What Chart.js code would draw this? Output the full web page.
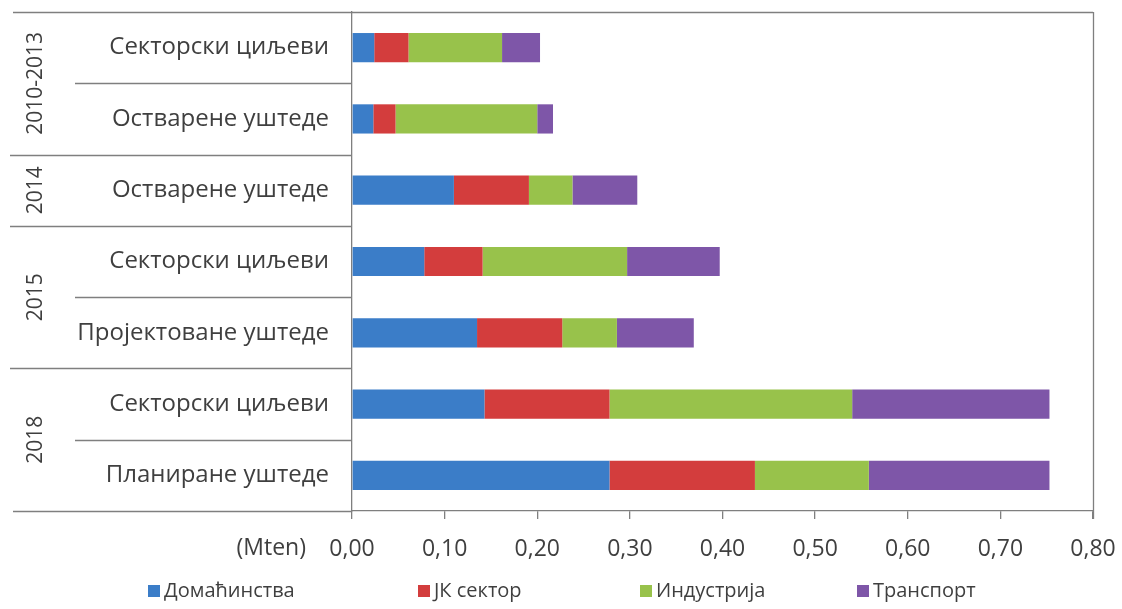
<!DOCTYPE html>
<html>
<head>
<meta charset="utf-8">
<script src="https://cdn.jsdelivr.net/npm/chart.js@4"></script>
<style>
  html, body { margin: 0; padding: 0; background: #ffffff; }
  #wrap { width: 1122px; height: 609px; position: relative; }
</style>
</head>
<body>
<div id="wrap"><canvas id="c" width="1122" height="609"></canvas></div>
<script>
// ---- Data ----
const categories = [
  'Секторски циљеви',
  'Остварене уштеде',
  'Остварене уштеде',
  'Секторски циљеви',
  'Пројектоване уштеде',
  'Секторски циљеви',
  'Планиране уштеде'
];
const groupLabels = ['2010-2013', '2014', '2015', '2018'];
const groupSizes = [2, 1, 2, 2];

const seriesNames = ['Домаћинства', 'ЈК сектор', 'Индустрија', 'Транспорт'];
const domacinstva = [0.024, 0.023, 0.110, 0.078, 0.135, 0.143, 0.278];
const jkSektor    = [0.037, 0.024, 0.081, 0.063, 0.092, 0.135, 0.157];
const industrija  = [0.101, 0.153, 0.047, 0.156, 0.059, 0.262, 0.123];
const transport   = [0.041, 0.017, 0.070, 0.100, 0.083, 0.213, 0.195];

const xMin = 0, xMax = 0.8, xStep = 0.1;
const axisUnit = '(Mten)';

// ---- Styles ----
const colors = ['#3b7dc8', '#d33d3d', '#98c24b', '#7e56a8'];
const textColor = '#3f3f3f';
const lineColor = '#7f7f7f';
const FONT = '"Open Sans", "Noto Sans", sans-serif';

const extras = {
  id: 'extras',
  afterDraw(chart) {
    const ctx = chart.ctx;
    const ca = chart.chartArea;
    const y = chart.scales.y;
    const band = (y.getPixelForValue(1) - y.getPixelForValue(0));
    ctx.save();
    ctx.strokeStyle = lineColor;
    ctx.lineWidth = 1.3;
    // top and right frame
    ctx.beginPath();
    ctx.moveTo(13, ca.top + 0.5); ctx.lineTo(ca.right, ca.top + 0.5);
    ctx.moveTo(ca.right + 0.5, ca.top); ctx.lineTo(ca.right + 0.5, ca.bottom + 8);
    // bottom line extension to left
    ctx.moveTo(13, ca.bottom + 0.5); ctx.lineTo(ca.left, ca.bottom + 0.5);
    ctx.stroke();

    // group separators and inner category separators
    let idx = 0;
    ctx.font = '21px ' + FONT;
    ctx.fillStyle = textColor;
    groupLabels.forEach((g, gi) => {
      const start = idx;
      const end = idx + groupSizes[gi] - 1;
      const yTop = y.getPixelForValue(start) - band / 2;
      const yBot = y.getPixelForValue(end) + band / 2;
      for (let k = start; k < end; k++) {
        const yy = Math.round(y.getPixelForValue(k) + band / 2) + 0.5;
        ctx.beginPath(); ctx.moveTo(75, yy); ctx.lineTo(ca.left, yy); ctx.stroke();
      }
      if (gi > 0) {
        const yy = Math.round(yTop) + 0.5;
        ctx.beginPath(); ctx.moveTo(10, yy); ctx.lineTo(ca.left, yy); ctx.stroke();
      }
      ctx.save();
      ctx.translate(36, (yTop + yBot) / 2);
      ctx.rotate(-Math.PI / 2);
      ctx.textAlign = 'center';
      ctx.textBaseline = 'middle';
      ctx.fillText(g, 0, 0);
      ctx.restore();
      idx += groupSizes[gi];
    });

    // unit label
    ctx.font = '23px ' + FONT;
    ctx.textAlign = 'right';
    ctx.textBaseline = 'middle';
    ctx.fillText(axisUnit, 306, 548);

    // legend
    ctx.font = '20px ' + FONT;
    const legendX = [148, 418, 640, 857];
    const ly = 591;
    ctx.textAlign = 'left';
    chart.data.datasets.forEach((ds, i) => {
      ctx.fillStyle = ds.backgroundColor;
      ctx.fillRect(legendX[i], ly - 6, 12, 12);
      ctx.fillStyle = textColor;
      ctx.fillText(ds.label, legendX[i] + 16, ly);
    });
    ctx.restore();
  }
};

const seriesData = [domacinstva, jkSektor, industrija, transport];

new Chart(document.getElementById('c'), {
  type: 'bar',
  data: {
    labels: categories,
    datasets: seriesNames.map((n, i) => ({
      label: n,
      data: seriesData[i],
      backgroundColor: colors[i],
      borderWidth: 0,
      barPercentage: 0.41,
      categoryPercentage: 1.0
    }))
  },
  options: {
    indexAxis: 'y',
    responsive: false,
    animation: false,
    maintainAspectRatio: false,
    layout: { padding: { left: 0, right: 29, top: 12, bottom: 0 } },
    plugins: { legend: { display: false }, tooltip: { enabled: false } },
    scales: {
      x: {
        stacked: true,
        min: xMin, max: xMax,
        afterFit(s) { s.height = 98; s.paddingLeft = 0; s.paddingRight = 0; },
        ticks: {
          stepSize: xStep,
          color: textColor,
          font: { family: FONT, size: 23 },
          padding: 17,
          maxRotation: 0,
          callback: v => v.toFixed(2).replace('.', ',')
        },
        grid: { display: true, drawOnChartArea: false, drawTicks: true, tickLength: 8, color: lineColor, lineWidth: 1.3 },
        border: { display: true, color: lineColor, width: 1.3 }
      },
      y: {
        stacked: true,
        afterFit(s) { s.width = 352; s.paddingTop = 0; s.paddingBottom = 0; },
        ticks: {
          color: textColor,
          font: { family: FONT, size: 24 },
          padding: 15
        },
        grid: { display: false },
        border: { display: true, color: lineColor, width: 1.3 }
      }
    }
  },
  plugins: [extras]
});
</script>
</body>
</html>
